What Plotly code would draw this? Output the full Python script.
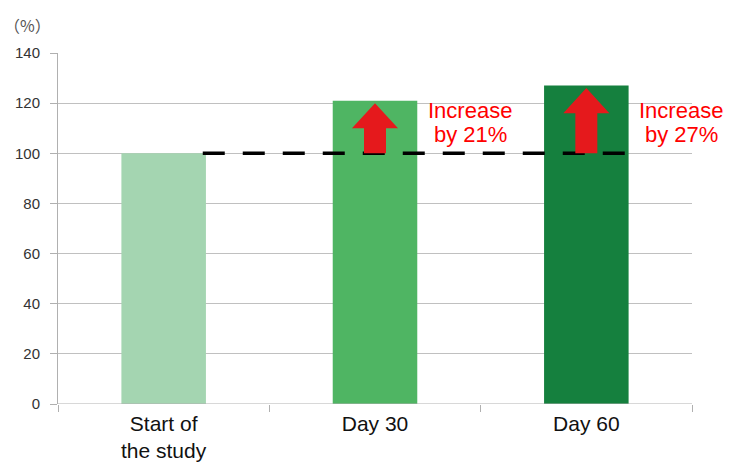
import plotly.graph_objects as go

categories = ["Start of<br>the study", "Day 30", "Day 60"]
values = [100, 121, 127]
colors = ["#a4d5b1", "#4fb563", "#15803e"]
baseline = 100
labels = ["", "Increase<br>by 21%", "Increase<br>by 27%"]
y_ticks = [0, 20, 40, 60, 80, 100, 120, 140]

xs = list(range(len(categories)))
first_lines = [c.split("<br>")[0] for c in categories]

fig = go.Figure()
fig.add_trace(go.Bar(x=xs, y=values, marker=dict(color=colors, line=dict(width=0)),
                     width=0.4, showlegend=False, hoverinfo="skip"))

# dashed baseline
fig.add_trace(go.Scatter(x=[xs[0] + 0.185, xs[-1] + 0.2], y=[baseline, baseline], mode="lines",
                         line=dict(color="black", width=3.5, dash="22px,18px"),
                         showlegend=False, hoverinfo="skip"))

# arrows
for i in xs[1:]:
    v = values[i]
    tip = v - 1
    head_base = tip - 10
    sw = 0.052
    hw = 0.109
    px = [i - sw, i - sw, i - hw, i, i + hw, i + sw, i + sw, i - sw]
    py = [baseline, head_base, head_base, tip, head_base, head_base, baseline, baseline]
    fig.add_trace(go.Scatter(x=px, y=py, mode="lines", fill="toself", fillcolor="#e5191c",
                             line=dict(width=0, color="#e5191c"), showlegend=False, hoverinfo="skip"))

red_font = dict(family="Liberation Sans, Arial", size=22, color="#ff0000")
for i in xs[1:]:
    parts = labels[i].split("<br>")
    for k, p in enumerate(parts):
        fig.add_annotation(x=i + 0.45, y=values[1], yshift=-10 - 24 * k, text=p, showarrow=False,
                           font=red_font, xanchor="center", yanchor="middle")

# second lines of category labels
for i, c in enumerate(categories):
    parts = c.split("<br>")
    for k, p in enumerate(parts[1:], start=1):
        fig.add_annotation(x=i, xref="x", y=0, yref="paper", yshift=-33 - 21 * (k - 1), text=p,
                           showarrow=False, xanchor="center", yanchor="top",
                           font=dict(family="Liberation Sans, Arial", size=21, color="#111111"))

fig.add_annotation(xref="paper", yref="paper", x=-0.088, y=1.0, yshift=28, text="（%）", showarrow=False,
                   font=dict(family="Noto Sans CJK JP", size=16, color="#555555"),
                   xanchor="left", yanchor="middle")

fig.update_layout(
    width=731, height=463,
    margin=dict(l=58, r=39, t=53, b=59),
    plot_bgcolor="white", paper_bgcolor="white",
    xaxis=dict(range=[-0.5, 2.5], tickvals=xs, ticktext=first_lines, ticks="",
               showgrid=False, zeroline=False, showline=False, ticklabelstandoff=5,
               tickfont=dict(family="Liberation Sans, Arial", size=21, color="#111111"),
               minor=dict(tickvals=[-0.5, 0.5, 1.5, 2.5], ticks="outside", ticklen=7,
                          tickcolor="#b0b0b0", tickwidth=1, showgrid=False)),
    yaxis=dict(range=[0, 140], tickvals=y_ticks, showgrid=True, gridcolor="#c0c0c0", gridwidth=1,
               zeroline=False, showline=True, linecolor="#b0b0b0", linewidth=1,
               ticks="outside", ticklen=7, tickcolor="#b0b0b0", ticklabelstandoff=7,
               tickfont=dict(family="Liberation Sans, Arial", size=15, color="#333333")),
)
fig.add_shape(type="line", xref="paper", yref="y", x0=0, x1=1, y0=0, y1=0,
              line=dict(color="#b0b0b0", width=1))

fig.write_html("out.html")
